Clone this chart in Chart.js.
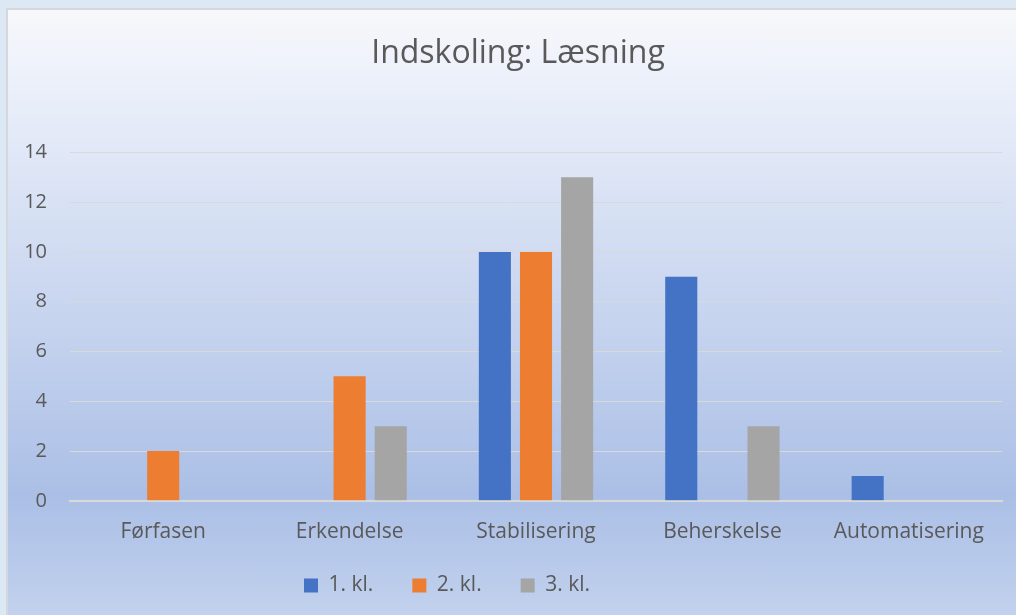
<!DOCTYPE html>
<html>
<head>
<meta charset="utf-8">
<script src="https://cdn.jsdelivr.net/npm/chart.js@4"></script>
<style>
  html, body { margin: 0; padding: 0; }
  body { width: 1016px; height: 615px; background: #dde8f5; overflow: hidden; position: relative; }
  #box {
    position: absolute; left: 6px; top: 8px; width: 1010px; height: 607px;
    border-left: 2px solid #d4d8de; border-top: 2px solid #d4d8de;
    background: linear-gradient(#f8f8fa 0%, #eef2fb 9%, #abbfe6 80%, #c2d2ee 100%);
  }
  canvas { display: block; }
</style>
</head>
<body>
<div id="box"><canvas id="myChart" width="1010" height="605"></canvas></div>
<script>
const categories = ['Førfasen', 'Erkendelse', 'Stabilisering', 'Beherskelse', 'Automatisering'];
const kl1 = [0, 0, 10, 9, 1];
const kl2 = [2, 5, 10, 0, 0];
const kl3 = [0, 3, 13, 3, 0];
const yTicks = [0, 2, 4, 6, 8, 10, 12, 14];

const FONT = "'Open Sans', sans-serif";
const TXT = '#595959';
const LEGEND_TRIM = 23;

// legend takes less room from the plot, and title/legend sit a bit off-center like the original
const shiftBoxes = {
    id: 'shiftBoxes',
    beforeLayout(chart) {
        const lg = chart.legend;
        if (lg && !lg._trimmed) {
            const fit = lg.fit;
            lg.fit = function () { fit.call(this); this.height -= LEGEND_TRIM; };
            lg._trimmed = true;
        }
    },
    afterLayout(chart) {
        chart.titleBlock.left += 13;
        chart.titleBlock.right += 13;
        chart.legend.left -= 58;
        chart.legend.right -= 58;
        chart.legend.top -= LEGEND_TRIM - 3;
    }
};

const ctx = document.getElementById('myChart');
new Chart(ctx, {
    type: 'bar',
    data: {
        labels: categories,
        datasets: [
            { label: '1. kl.', data: kl1, backgroundColor: '#4472c4' },
            { label: '2. kl.', data: kl2, backgroundColor: '#ed7d31' },
            { label: '3. kl.', data: kl3, backgroundColor: '#a5a5a5' }
        ]
    },
    plugins: [shiftBoxes],
    options: {
        responsive: false,
        animation: false,
        categoryPercentage: 0.662,
        barPercentage: 0.78,
        layout: { padding: { left: 0, right: 16, top: 0, bottom: 12 } },
        plugins: {
            title: {
                display: true,
                text: 'Indskoling: Læsning',
                color: TXT,
                font: { family: FONT, size: 32, weight: 'normal' },
                padding: { top: 25, bottom: 79 }
            },
            legend: {
                position: 'bottom',
                labels: {
                    color: TXT,
                    font: { family: FONT, size: 21 },
                    boxWidth: 14,
                    boxHeight: 14,
                    padding: 39
                }
            },
            tooltip: { enabled: false }
        },
        scales: {
            x: {
                grid: { display: false },
                border: { color: '#d9d9d9', width: 2 },
                ticks: { color: TXT, font: { family: FONT, size: 21 }, padding: 11 }
            },
            y: {
                min: 0,
                max: 14,
                afterBuildTicks: (scale) => { scale.ticks = yTicks.map(v => ({ value: v })); },
                afterFit: (scale) => { scale.width = 62; },
                grid: { color: '#d9d9d9', lineWidth: 1, drawTicks: false },
                border: { display: false },
                ticks: { color: TXT, font: { family: FONT, size: 20 }, padding: 23 }
            }
        }
    }
});
</script>
</body>
</html>
